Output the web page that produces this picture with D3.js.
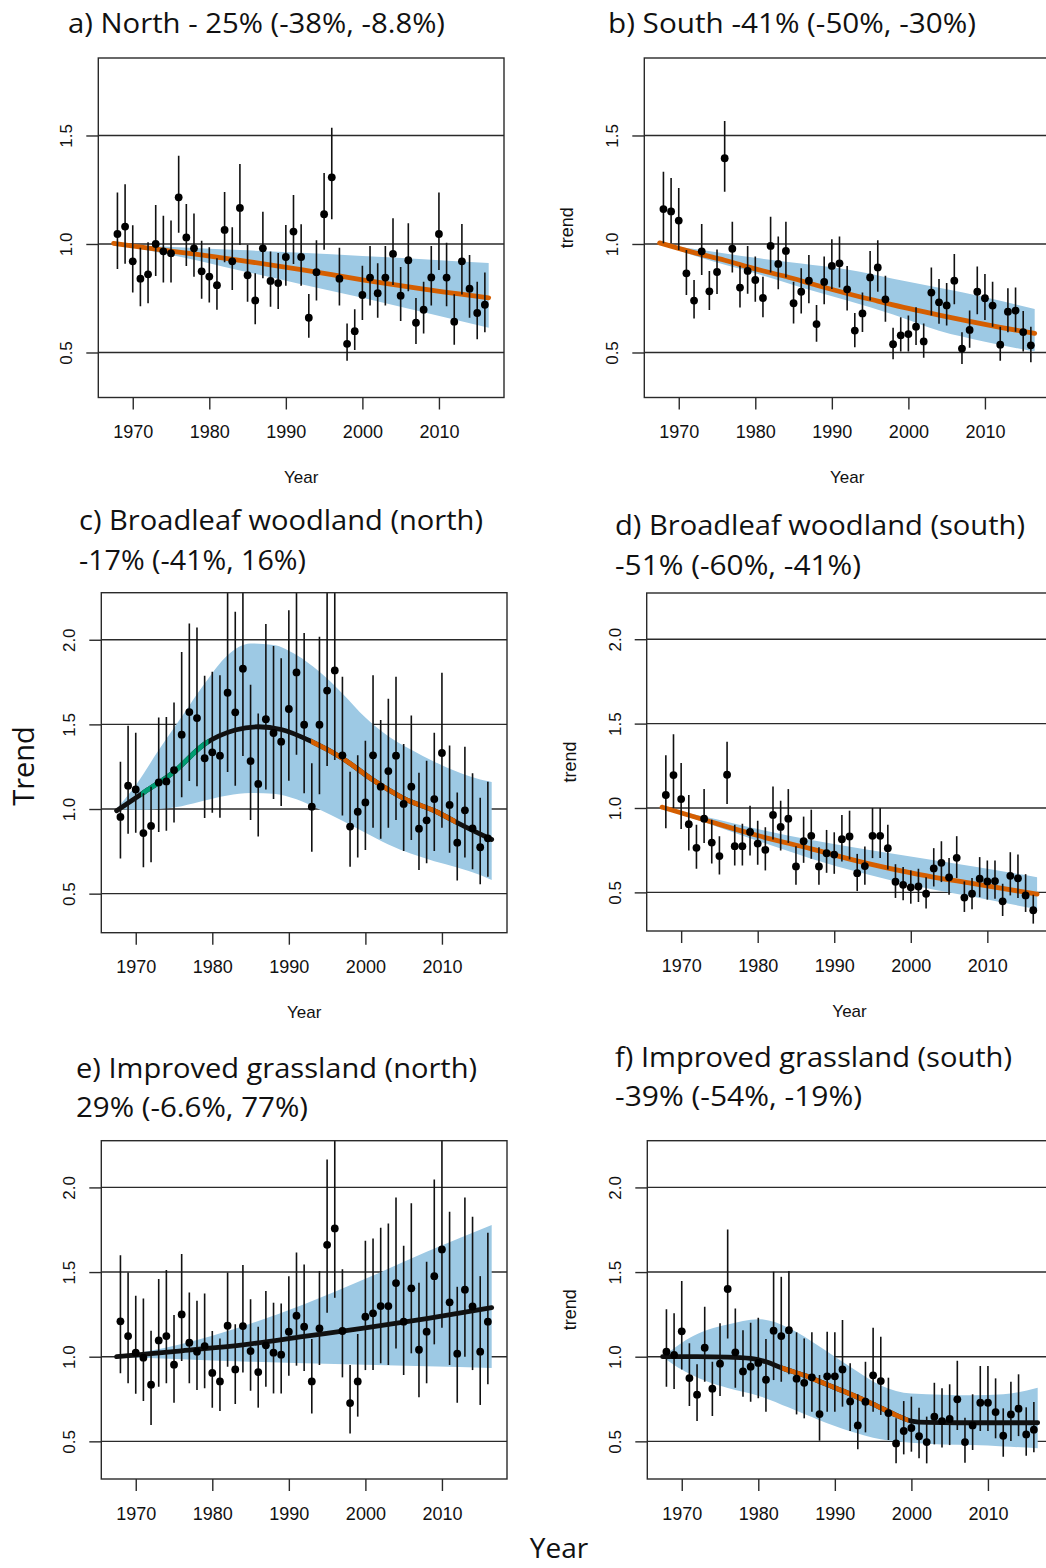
<!DOCTYPE html>
<html><head><meta charset="utf-8">
<script src="https://cdn.jsdelivr.net/npm/d3@7"></script>
<style>body{margin:0;background:#fff}svg{display:block}</style>
</head><body>
<svg id="chart" width="1046" height="1568"></svg>
<script>
// ---------- DATA ----------
const years = [1968,1969,1970,1971,1972,1973,1974,1975,1976,1977,1978,1979,1980,1981,1982,1983,1984,1985,1986,1987,1988,1989,1990,1991,1992,1993,1994,1995,1996,1997,1998,1999,2000,2001,2002,2003,2004,2005,2006,2007,2008,2009,2010,2011,2012,2013,2014,2015,2016];
const xTickYears = [1970,1980,1990,2000,2010];

// a) North
const aEst = [1.046,1.08,0.92,0.84,0.86,1.0,0.966,0.957,1.215,1.03, 0.98,0.874,0.85,0.81,1.065,0.92,1.166,0.856,0.74,0.98, 0.83,0.82,0.94,1.057,0.94,0.66,0.87,1.137,1.307,0.84, 0.54,0.598,0.765,0.845,0.773,0.845,0.954,0.762,0.925,0.637, 0.697,0.846,1.046,0.845,0.642,0.92,0.794,0.682,0.72];
const aLo = [0.885,0.909,0.777,0.713,0.727,0.853,0.823,0.822,1.052,0.899, 0.849,0.748,0.73,0.697,0.916,0.788,0.995,0.734,0.63,0.842, 0.711,0.70,0.808,0.908,0.808,0.568,0.739,0.974,1.114,0.716, 0.462,0.512,0.65,0.716,0.66,0.716,0.811,0.645,0.782,0.539, 0.588,0.716,0.88,0.713,0.536,0.767,0.66,0.561,0.593];
const aHi = [1.237,1.275,1.086,0.983,1.008,1.18,1.13,1.108,1.407,1.184, 1.14,1.015,0.985,0.934,1.24,1.077,1.369,0.997,0.865,1.149, 0.965,0.959,1.088,1.226,1.091,0.77,1.017,1.327,1.536,0.983, 0.634,0.699,0.90,0.991,0.911,0.991,1.118,0.894,1.095,0.751, 0.826,0.991,1.237,1.006,0.768,1.092,0.949,0.826,0.869];
const aTrendYears = [1967.5,1976,1984,1992,2000,2008,2016.5];
const aTrend = [1.003,0.963,0.925,0.882,0.835,0.792,0.752];
const aBandYears = [1967.5,1976,1984,1992,2000,2008,2016.5];
const aBandUp = [1.0,0.985,0.972,0.96,0.945,0.93,0.912];
const aBandLo = [1.0,0.942,0.878,0.815,0.752,0.685,0.614];

// b) South
const bEst = [1.161,1.15,1.108,0.865,0.739,0.966,0.782,0.871,1.395,0.978, 0.799,0.876,0.834,0.751,0.991,0.908,0.968,0.727,0.78,0.831, 0.631,0.825,0.899,0.911,0.791,0.601,0.68,0.846,0.892,0.745, 0.538,0.579,0.585,0.619,0.551,0.776,0.731,0.717,0.831,0.518, 0.604,0.78,0.75,0.716,0.536,0.688,0.693,0.594,0.533];
const bLo = [1.003,1.003,0.972,0.765,0.657,0.857,0.696,0.77,1.241,0.869, 0.707,0.771,0.734,0.662,0.869,0.791,0.845,0.634,0.68,0.727, 0.55,0.722,0.793,0.799,0.694,0.524,0.594,0.739,0.78,0.642, 0.469,0.504,0.504,0.535,0.476,0.67,0.633,0.624,0.722,0.447, 0.522,0.676,0.65,0.619,0.462,0.593,0.596,0.504,0.455];
const bHi = [1.333,1.304,1.258,0.972,0.834,1.092,0.876,0.975,1.567,1.103, 0.90,0.991,0.942,0.849,1.126,1.034,1.103,0.826,0.888,0.949, 0.719,0.942,1.022,1.034,0.899,0.682,0.777,0.968,1.017,0.854, 0.614,0.662,0.67,0.708,0.634,0.892,0.839,0.82,0.954,0.593, 0.693,0.896,0.862,0.826,0.619,0.796,0.80,0.691,0.619];
const bTrendYears = [1967.5,1972,1976,1980,1984,1988,1992,1996,2000,2004,2008,2012,2016.5];
const bTrend = [1.005,0.96,0.925,0.885,0.85,0.81,0.772,0.737,0.703,0.672,0.643,0.616,0.588];
const bBandYears = [1967.5,1973,1980,1986,1992,1998,2004,2010,2016.5];
const bBandUp = [1.0,0.972,0.936,0.91,0.882,0.84,0.798,0.755,0.70];
const bBandLo = [1.0,0.935,0.865,0.80,0.74,0.675,0.60,0.55,0.504];

// c) Broadleaf woodland (north)
const cEst = [0.953,1.138,1.116,0.858,0.90,1.157,1.163,1.23,1.439,1.573, 1.537,1.30,1.335,1.315,1.687,1.571,1.829,1.283,1.148,1.531, 1.449,1.398,1.591,1.807,1.498,1.014,1.498,1.70,1.819,1.317, 0.896,0.984,1.039,1.317,1.132,1.224,1.315,1.03,1.132,0.884, 0.933,1.059,1.331,1.024,0.801,0.992,0.886,0.774,0.827];
const cLo = [0.707,0.854,0.86,0.656,0.685,0.864,0.872,0.921,1.069,1.165, 1.134,0.947,0.978,0.949,1.219,1.138,1.313,0.935,0.837,1.116, 1.059,1.018,1.167,1.321,1.093,0.748,1.087,1.254,1.289,0.961, 0.659,0.713,0.758,0.89,0.825,0.89,0.935,0.752,0.817,0.64, 0.679,0.752,0.89,0.742,0.577,0.713,0.644,0.555,0.60];
const cHi = [1.28,1.492,1.45,1.093,1.132,1.54,1.543,1.63,1.927,2.096, 2.073,1.787,1.811,1.791,2.40,2.165,2.40,1.734,1.565,2.093, 1.963,1.89,2.175,2.40,2.04,1.27,2.018,2.40,2.40,1.781, 1.22,1.317,1.404,1.791,1.526,1.652,1.781,1.384,1.553,1.215, 1.285,1.45,1.805,1.376,1.098,1.368,1.211,1.067,1.161];
const cTrendYears = [1967.5,1971,1975,1979,1983,1986,1989,1993,1997,2001,2005,2009,2013,2016.5];
const cTrend = [0.99,1.096,1.22,1.384,1.467,1.486,1.47,1.398,1.30,1.171,1.063,0.99,0.896,0.82];
const cBandYears = [1967.5,1970,1973,1976,1979,1982,1985,1988,1991,1994,1997,2000,2003,2006,2009,2012,2015,2016.5];
const cBandUp = [1.0,1.14,1.348,1.545,1.742,1.909,1.978,1.969,1.91,1.811,1.683,1.54,1.43,1.35,1.28,1.22,1.175,1.16];
const cBandLo = [1.0,0.995,1.0,1.017,1.05,1.08,1.095,1.09,1.057,0.997,0.93,0.86,0.79,0.735,0.692,0.655,0.61,0.581];

// d) Broadleaf woodland (south)
const dEst = [1.077,1.195,1.053,0.904,0.764,0.937,0.795,0.715,1.197,0.774, 0.774,0.858,0.789,0.752,0.959,0.888,0.937,0.654,0.803,0.835, 0.654,0.732,0.724,0.815,0.831,0.614,0.656,0.835,0.835,0.762, 0.563,0.545,0.53,0.535,0.492,0.642,0.675,0.589,0.705,0.469, 0.492,0.581,0.565,0.567,0.447,0.598,0.583,0.482,0.394];
const dLo = [0.88,0.998,0.876,0.748,0.64,0.793,0.671,0.606,1.024,0.659, 0.659,0.719,0.663,0.63,0.813,0.748,0.793,0.545,0.675,0.699, 0.545,0.616,0.61,0.683,0.695,0.508,0.545,0.703,0.703,0.636, 0.467,0.453,0.433,0.443,0.404,0.535,0.561,0.486,0.585,0.384, 0.40,0.472,0.457,0.463,0.36,0.482,0.467,0.384,0.315];
const dHi = [1.313,1.437,1.266,1.077,0.90,1.112,0.931,0.833,1.392,0.90, 0.906,1.014,0.925,0.886,1.128,1.043,1.112,0.774,0.949,0.99, 0.768,0.87,0.856,0.959,0.984,0.728,0.772,1.0,1.0,0.90, 0.667,0.65,0.63,0.64,0.59,0.762,0.803,0.703,0.833,0.565, 0.585,0.709,0.689,0.689,0.551,0.738,0.724,0.608,0.486];
const dTrendYears = [1967.5,1973,1980,1987,1994,2001,2008,2016.5];
const dTrend = [1.005,0.93,0.837,0.758,0.675,0.607,0.553,0.49];
const dBandYears = [1967.5,1973,1980,1987,1994,2001,2008,2016.5];
const dBandUp = [1.0,0.95,0.875,0.81,0.755,0.705,0.655,0.59];
const dBandLo = [1.0,0.915,0.805,0.70,0.61,0.535,0.475,0.40];

// e) Improved grassland (north)
const eEst = [1.209,1.122,1.024,0.994,0.835,1.096,1.122,0.953,1.25,1.083, 1.03,1.063,0.904,0.854,1.183,0.925,1.181,1.033,0.909,1.067, 1.024,1.012,1.148,1.242,1.177,0.854,1.167,1.661,1.758,1.152, 0.726,0.854,1.236,1.256,1.299,1.299,1.435,1.207,1.404,1.041, 1.148,1.476,1.634,1.321,1.018,1.396,1.297,1.03,1.207];
const eLo = [0.902,0.843,0.781,0.738,0.596,0.823,0.843,0.728,0.974,0.843, 0.803,0.813,0.699,0.679,0.941,0.72,0.906,0.799,0.699,0.823, 0.783,0.783,0.888,0.947,0.915,0.665,0.951,1.26,1.348,0.878, 0.547,0.646,0.921,0.921,0.961,0.951,1.049,0.892,1.02,0.76, 0.843,1.073,1.171,0.951,0.728,1.0,0.921,0.715,0.837];
const eHi = [1.60,1.498,1.36,1.344,1.154,1.459,1.512,1.246,1.606,1.38, 1.331,1.374,1.152,1.108,1.498,1.191,1.541,1.339,1.177,1.388, 1.319,1.315,1.476,1.616,1.545,1.104,1.506,2.165,2.40,1.516, 0.951,1.134,1.685,1.699,1.762,1.787,1.941,1.656,1.906,1.437, 1.561,2.047,2.40,1.856,1.413,1.941,1.827,1.476,1.732];
const eTrendYears = [1967.5,1976,1984,1992,2000,2008,2016.5];
const eTrend = [1.0,1.035,1.07,1.12,1.17,1.225,1.29];
const eBandYears = [1967.5,1976,1984,1992,2000,2008,2016.5];
const eBandUp = [1.0,1.075,1.18,1.31,1.46,1.62,1.778];
const eBandLo = [1.0,0.985,0.972,0.962,0.952,0.943,0.934];

// f) Improved grassland (south)
const fEst = [1.03,1.01,1.15,0.874,0.776,1.053,0.811,0.959,1.40,1.026, 0.913,0.941,0.963,0.864,1.154,1.122,1.157,0.87,0.846,0.878, 0.661,0.884,0.884,0.925,0.736,0.594,0.734,0.89,0.856,0.667, 0.488,0.561,0.579,0.53,0.496,0.646,0.62,0.632,0.748,0.496, 0.594,0.728,0.728,0.673,0.533,0.659,0.693,0.541,0.569];
const fLo = [0.823,0.809,0.925,0.709,0.62,0.852,0.65,0.768,1.108,0.817, 0.764,0.734,0.754,0.675,0.862,0.852,0.896,0.659,0.636,0.675, 0.504,0.675,0.675,0.705,0.561,0.453,0.553,0.675,0.656,0.508, 0.37,0.423,0.439,0.40,0.37,0.482,0.463,0.478,0.567,0.374, 0.449,0.561,0.561,0.518,0.409,0.502,0.531,0.415,0.435];
const fHi = [1.281,1.256,1.447,1.079,0.955,1.295,0.97,1.197,1.752,1.285, 1.157,1.201,1.23,1.104,1.502,1.472,1.506,1.144,1.108,1.144, 0.892,1.148,1.144,1.217,0.961,0.778,0.97,1.171,1.118,0.876, 0.636,0.738,0.764,0.699,0.646,0.846,0.813,0.837,0.976,0.64, 0.778,0.945,0.945,0.872,0.695,0.852,0.896,0.701,0.732];
const fTrendYears = [1967.5,1972,1976,1979,1981,1983,1986,1989,1992,1995,1998,2000,2002,2006,2010,2016.5];
const fTrend = [1.0,1.0,0.998,0.99,0.97,0.935,0.89,0.835,0.78,0.72,0.655,0.62,0.612,0.61,0.61,0.61];
const fBandYears = [1967.5,1969,1971,1973.5,1976,1980,1984,1988,1992,1996,2000,2004,2008,2012,2016.5];
const fBandUp = [1.0,1.05,1.11,1.16,1.19,1.222,1.17,1.06,0.94,0.83,0.782,0.776,0.772,0.778,0.817];
const fBandLo = [1.0,0.951,0.90,0.85,0.815,0.77,0.70,0.625,0.56,0.512,0.492,0.482,0.478,0.47,0.459];

const titles = {
  a: ["a) North - 25% (-38%, -8.8%)"],
  b: ["b) South -41% (-50%, -30%)"],
  c: ["c) Broadleaf woodland (north)", "-17% (-41%, 16%)"],
  d: ["d) Broadleaf woodland (south)", "-51% (-60%, -41%)"],
  e: ["e) Improved grassland (north)", "29% (-6.6%, 77%)"],
  f: ["f) Improved grassland (south)", "-39% (-54%, -19%)"]
};

// ---------- STYLE / LAYOUT ----------
const ORANGE = '#d55e00', GREEN = '#009e73', BAND = '#9dc9e4', INK = '#111', FRAME = '#2a2a2a';
const AXIS_FONT = '"Liberation Sans", Arial, sans-serif';
const TITLE_FONT = '"Open Sans", "Noto Sans", sans-serif';
const W = 405.7;

const panels = [
  {id:'a', est:aEst, lo:aLo, hi:aHi, ty:aTrendYears, tv:aTrend, by:aBandYears, bu:aBandUp, bl:aBandLo,
   lineColor:ORANGE, segs:[], left:98.3, top:58, bottom:397.5, yDomain:[0.2926,1.857], yTicks:[0.5,1,1.5],
   titleX:68, titleY:[33], titleW:[377], yLab:null, xLab:true},
  {id:'b', est:bEst, lo:bLo, hi:bHi, ty:bTrendYears, tv:bTrend, by:bBandYears, bu:bBandUp, bl:bBandLo,
   lineColor:ORANGE, segs:[], left:644.3, top:58, bottom:397.5, yDomain:[0.2926,1.857], yTicks:[0.5,1,1.5],
   titleX:608, titleY:[33], titleW:[368], yLab:'trend', xLab:true},
  {id:'c', est:cEst, lo:cLo, hi:cHi, ty:cTrendYears, tv:cTrend, by:cBandYears, bu:cBandUp, bl:cBandLo,
   lineColor:INK, segs:[{from:1970.7,to:1979.5,color:GREEN},{from:1992.9,to:2011.8,color:ORANGE}],
   left:101.3, top:592.7, bottom:932.7, yDomain:[0.2693,2.278], yTicks:[0.5,1,1.5,2],
   titleX:79, titleY:[530,570], titleW:[404,227], yLab:null, xLab:true},
  {id:'d', est:dEst, lo:dLo, hi:dHi, ty:dTrendYears, tv:dTrend, by:dBandYears, bu:dBandUp, bl:dBandLo,
   lineColor:ORANGE, segs:[], left:646.7, top:593, bottom:931, yDomain:[0.2712,2.2738], yTicks:[0.5,1,1.5,2],
   titleX:615, titleY:[535,575], titleW:[410,246], yLab:'trend', xLab:true},
  {id:'e', est:eEst, lo:eLo, hi:eHi, ty:eTrendYears, tv:eTrend, by:eBandYears, bu:eBandUp, bl:eBandLo,
   lineColor:INK, segs:[], left:101.3, top:1140.7, bottom:1479, yDomain:[0.2776,2.276], yTicks:[0.5,1,1.5,2],
   titleX:76, titleY:[1078,1117], titleW:[401,232], yLab:null, xLab:false},
  {id:'f', est:fEst, lo:fLo, hi:fHi, ty:fTrendYears, tv:fTrend, by:fBandYears, bu:fBandUp, bl:fBandLo,
   lineColor:INK, segs:[{from:1982.9,to:1999.6,color:ORANGE}],
   left:647.3, top:1140.7, bottom:1479, yDomain:[0.2776,2.276], yTicks:[0.5,1,1.5,2],
   titleX:615, titleY:[1067,1106], titleW:[397,247], yLab:'trend', xLab:false}
];

const svg = d3.select('#chart');
svg.append('rect').attr('width',1046).attr('height',1568).attr('fill','#fff');
const defs = svg.append('defs');

panels.forEach(p => {
  const x = d3.scaleLinear().domain([1965.5, 2018.5]).range([p.left, p.left + W]);
  const y = d3.scaleLinear().domain(p.yDomain).range([p.bottom, p.top]);
  const g = svg.append('g').attr('class', 'panel-' + p.id);
  const clipId = 'clip-' + p.id;
  defs.append('clipPath').attr('id', clipId).append('rect')
    .attr('x', p.left).attr('y', p.top).attr('width', W).attr('height', p.bottom - p.top);
  const inner = g.append('g').attr('clip-path', `url(#${clipId})`);

  // gridlines
  inner.selectAll('line.grid').data(p.yTicks).enter().append('line')
    .attr('x1', p.left).attr('x2', p.left + W).attr('y1', d => y(d)).attr('y2', d => y(d))
    .attr('stroke', FRAME).attr('stroke-width', 1.4);

  // band
  const band = p.by.map((yr, i) => ({yr, up: p.bu[i], lo: p.bl[i]}));
  inner.append('path').datum(band).attr('fill', BAND)
    .attr('d', d3.area().x(d => x(d.yr)).y0(d => y(d.lo)).y1(d => y(d.up)).curve(d3.curveMonotoneX));

  // trend line
  const trend = p.ty.map((yr, i) => ({yr, v: p.tv[i]}));
  const lineGen = d3.line().x(d => x(d.yr)).y(d => y(d.v)).curve(d3.curveMonotoneX);
  inner.append('path').datum(trend).attr('fill', 'none').attr('stroke', p.lineColor)
    .attr('stroke-width', 4.8).attr('stroke-linecap', 'round').attr('stroke-linejoin', 'round').attr('d', lineGen);
  p.segs.forEach((s, k) => {
    const sid = `seg-${p.id}-${k}`;
    defs.append('clipPath').attr('id', sid).append('rect')
      .attr('x', x(s.from)).attr('y', p.top).attr('width', x(s.to) - x(s.from)).attr('height', p.bottom - p.top);
    inner.append('g').attr('clip-path', `url(#${sid})`).append('path').datum(trend)
      .attr('fill', 'none').attr('stroke', s.color).attr('stroke-width', 4.8).attr('d', lineGen);
  });

  // error bars & points
  const pts = years.map((yr, i) => ({yr, v: p.est[i], lo: p.lo[i], hi: p.hi[i]}));
  inner.selectAll('line.err').data(pts).enter().append('line')
    .attr('x1', d => x(d.yr)).attr('x2', d => x(d.yr)).attr('y1', d => y(d.lo)).attr('y2', d => y(d.hi))
    .attr('stroke', INK).attr('stroke-width', 1.6);
  inner.selectAll('circle.pt').data(pts).enter().append('circle')
    .attr('cx', d => x(d.yr)).attr('cy', d => y(d.v)).attr('r', 3.9).attr('fill', '#000');

  // frame
  g.append('rect').attr('x', p.left).attr('y', p.top).attr('width', W).attr('height', p.bottom - p.top)
    .attr('fill', 'none').attr('stroke', FRAME).attr('stroke-width', 1.4);

  // x axis
  const xa = g.append('g').attr('transform', `translate(0,${p.bottom})`)
    .call(d3.axisBottom(x).tickValues(xTickYears).tickFormat(d3.format('d')).tickSize(12).tickSizeOuter(0));
  xa.select('.domain').remove();
  xa.selectAll('.tick line').attr('stroke', FRAME).attr('stroke-width', 1.4);
  xa.selectAll('.tick text').attr('y', 40.5).attr('dy', null)
    .attr('font-family', AXIS_FONT).attr('font-size', 18).attr('fill', '#111');

  // y axis ticks + rotated labels
  const ya = g.append('g').attr('transform', `translate(${p.left},0)`)
    .call(d3.axisLeft(y).tickValues(p.yTicks).tickFormat(d3.format('.1f')).tickSize(12).tickSizeOuter(0));
  ya.select('.domain').remove();
  ya.selectAll('.tick line').attr('stroke', FRAME).attr('stroke-width', 1.4);
  ya.selectAll('.tick text').attr('x', null).attr('dy', null)
    .attr('transform', 'translate(-26,0) rotate(-90)')
    .attr('text-anchor', 'middle')
    .attr('font-family', AXIS_FONT).attr('font-size', 17).attr('fill', '#111');

  // y axis title
  if (p.yLab) {
    g.append('text').attr('transform', `translate(${p.left - 71},${(p.top + p.bottom) / 2}) rotate(-90)`)
      .attr('text-anchor', 'middle').attr('font-family', AXIS_FONT).attr('font-size', 18).attr('fill', '#111')
      .text(p.yLab);
  }
  // x axis title
  if (p.xLab) {
    g.append('text').attr('x', p.left + W / 2).attr('y', p.bottom + 85.5)
      .attr('text-anchor', 'middle').attr('font-family', AXIS_FONT).attr('font-size', 17).attr('fill', '#111')
      .text('Year');
  }
  // title
  titles[p.id].forEach((t, i) => {
    g.append('text').attr('x', p.titleX).attr('y', p.titleY[i])
      .attr('font-family', TITLE_FONT).attr('font-size', 27).attr('fill', '#111')
      .attr('textLength', p.titleW[i]).attr('lengthAdjust', 'spacingAndGlyphs')
      .text(t);
  });
});

// shared labels
svg.append('text').attr('transform', 'translate(34,766) rotate(-90)')
  .attr('text-anchor', 'middle').attr('font-family', TITLE_FONT).attr('font-size', 29).attr('fill', '#111')
  .text('Trend');
svg.append('text').attr('x', 559).attr('y', 1558)
  .attr('text-anchor', 'middle').attr('font-family', TITLE_FONT).attr('font-size', 28).attr('fill', '#111')
  .text('Year');
</script>
</body></html>
